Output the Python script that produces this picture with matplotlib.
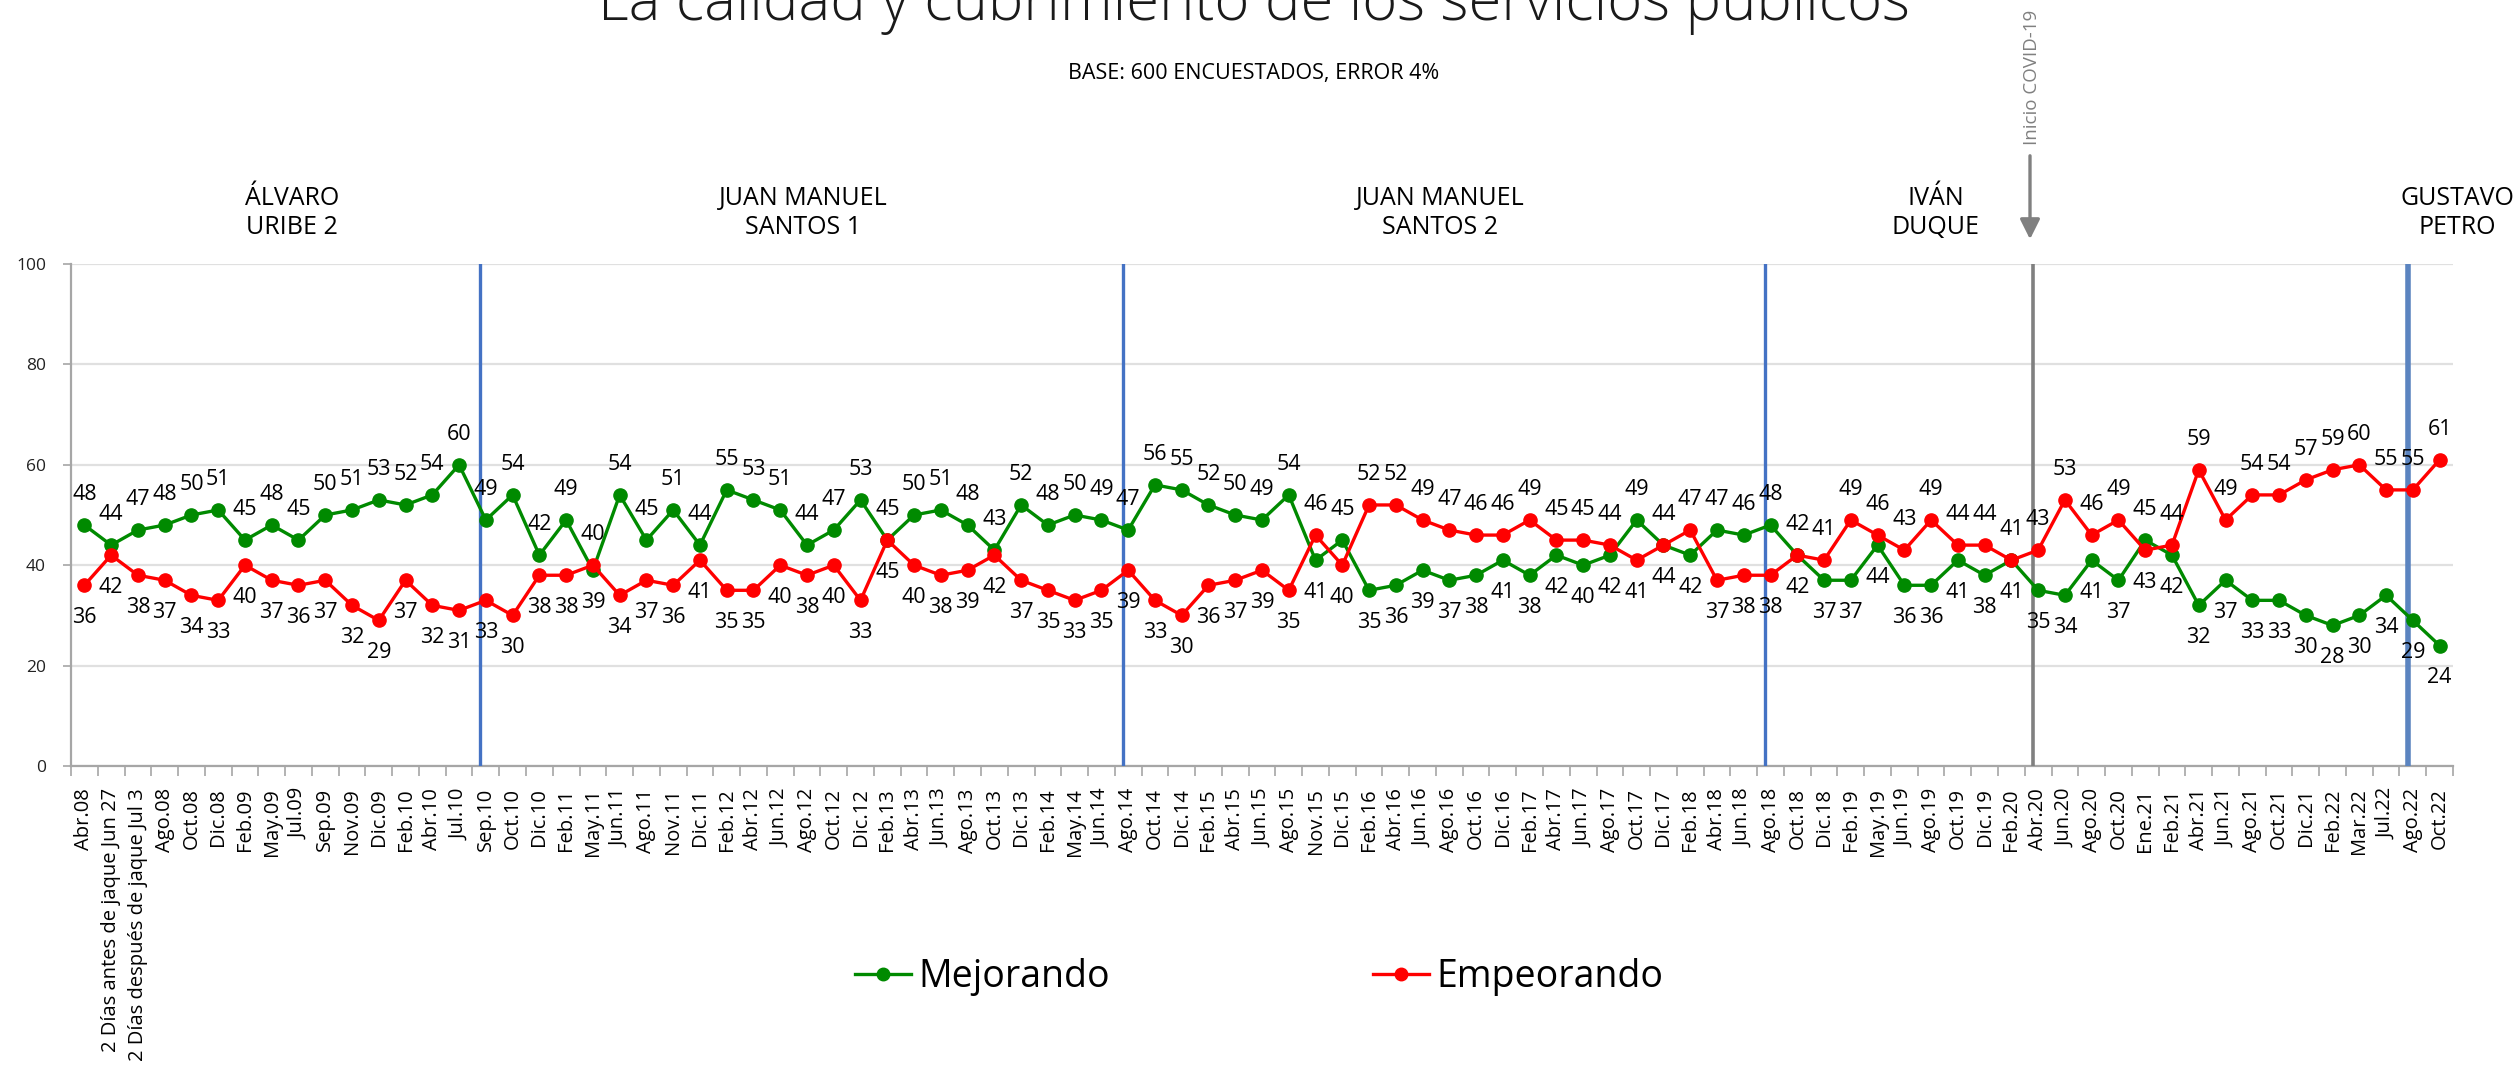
import matplotlib
matplotlib.use("Agg")
import matplotlib.pyplot as plt
from matplotlib.lines import Line2D

plt.rcParams['font.family'] = ['Open Sans', 'DejaVu Sans']

fechas = ["Abr.08", "2 Días antes de jaque Jun 27", "2 Días después de jaque Jul 3",
          "Ago.08", "Oct.08", "Dic.08", "Feb.09", "May.09", "Jul.09", "Sep.09", "Nov.09",
          "Dic.09", "Feb.10", "Abr.10", "Jul.10", "Sep.10", "Oct.10", "Dic.10", "Feb.11",
          "May.11", "Jun.11", "Ago.11", "Nov.11", "Dic.11", "Feb.12", "Abr.12", "Jun.12",
          "Ago.12", "Oct.12", "Dic.12", "Feb.13", "Abr.13", "Jun.13", "Ago.13", "Oct.13",
          "Dic.13", "Feb.14", "May.14", "Jun.14", "Ago.14", "Oct.14", "Dic.14", "Feb.15",
          "Abr.15", "Jun.15", "Ago.15", "Nov.15", "Dic.15", "Feb.16", "Abr.16", "Jun.16",
          "Ago.16", "Oct.16", "Dic.16", "Feb.17", "Abr.17", "Jun.17", "Ago.17", "Oct.17",
          "Dic.17", "Feb.18", "Abr.18", "Jun.18", "Ago.18", "Oct.18", "Dic.18", "Feb.19",
          "May.19", "Jun.19", "Ago.19", "Oct.19", "Dic.19", "Feb.20", "Abr.20", "Jun.20",
          "Ago.20", "Oct.20", "Ene.21", "Feb.21", "Abr.21", "Jun.21", "Ago.21", "Oct.21",
          "Dic.21", "Feb.22", "Mar.22", "Jul.22", "Ago.22", "Oct.22"]

mejorando = [48, 44, 47, 48, 50, 51, 45, 48, 45, 50, 51, 53, 52, 54, 60,
             49, 54, 42, 49, 39, 54, 45, 51, 44, 55, 53, 51, 44, 47, 53,
             45, 50, 51, 48, 43, 52, 48, 50, 49, 47, 56, 55, 52, 50, 49,
             54, 41, 45, 35, 36, 39, 37, 38, 41, 38, 42, 40, 42, 49, 44,
             42, 47, 46, 48, 42, 37, 37, 44, 36, 36, 41, 38, 41, 35, 34,
             41, 37, 45, 42, 32, 37, 33, 33, 30, 28, 30, 34, 29, 24]

empeorando = [36, 42, 38, 37, 34, 33, 40, 37, 36, 37, 32, 29, 37, 32, 31,
              33, 30, 38, 38, 40, 34, 37, 36, 41, 35, 35, 40, 38, 40, 33,
              45, 40, 38, 39, 42, 37, 35, 33, 35, 39, 33, 30, 36, 37, 39,
              35, 46, 40, 52, 52, 49, 47, 46, 46, 49, 45, 45, 44, 41, 44,
              47, 37, 38, 38, 42, 41, 49, 46, 43, 49, 44, 44, 41, 43, 53,
              46, 49, 43, 44, 59, 49, 54, 54, 57, 59, 60, 55, 55, 61]

inicio_gobierno = ["Sep.10", "Ago.14", "Ago.18"]
inicio_petro = "Ago.22"
inicio_covid = "Abr.20"

presidentes = ["ÁLVARO\nURIBE 2", "JUAN MANUEL\nSANTOS 1", "JUAN MANUEL\nSANTOS 2",
               "IVÁN\nDUQUE", "GUSTAVO\nPETRO"]

VERDE = '#008A00'
ROJO = '#FF0000'

fig = plt.figure(figsize=(25.17, 10.69), dpi=100)
ax = fig.add_axes([71 / 2517, 1 - 766 / 1069, (2453 - 71) / 2517, (766 - 264) / 1069])

x = list(range(len(fechas)))
ax.plot(x, mejorando, color=VERDE, lw=2.4, marker='o', ms=9.5, zorder=4)
ax.plot(x, empeorando, color=ROJO, lw=2.4, marker='o', ms=9.5, zorder=4)

for i in x:
    g, r = mejorando[i], empeorando[i]
    arriba = g >= r
    ax.annotate(str(g), (i, g), xytext=(0, 22 if arriba else -23), textcoords='offset points',
                ha='center', va='center', fontsize=15.5, color='black', zorder=5)
    ax.annotate(str(r), (i, r), xytext=(0, -23 if arriba else 22), textcoords='offset points',
                ha='center', va='center', fontsize=15.5, color='black', zorder=5)

for f in inicio_gobierno:
    ax.axvline(fechas.index(f) - 0.2, color='#4472C4', lw=2.4, zorder=3)
ax.axvline(fechas.index(inicio_petro) - 0.2, color='#5B84C0', lw=4, zorder=3)
ax.axvline(fechas.index(inicio_covid) - 0.2, color='#808080', lw=2.6, zorder=3)

ax.set_xlim(-0.5, len(fechas) - 0.5)
ax.set_ylim(0, 100)
ax.set_yticks([0, 20, 40, 60, 80, 100])
ax.grid(axis='y', color='#E0E0E0', lw=1.6, zorder=0)
ax.set_axisbelow(True)

ax.set_xticks(x)
ax.set_xticklabels(fechas, rotation=90, fontsize=14.5, va='top', ha='center')
ax.set_xticks([i - 0.5 for i in range(len(fechas) + 1)], minor=True)
ax.tick_params(axis='x', which='major', length=0, pad=16)
ax.tick_params(axis='x', which='minor', length=7, color='#A6A6A6', width=1.2)
ax.tick_params(axis='y', length=6, color='#A6A6A6', width=1.2, labelsize=12.5,
               labelcolor='#222222', pad=12)

for s in ['top', 'right']:
    ax.spines[s].set_visible(False)
for s in ['left', 'bottom']:
    ax.spines[s].set_color('#A6A6A6')
    ax.spines[s].set_linewidth(1.6)

# textos de la parte superior
fig.text(1254 / 2517, 1 - 20 / 1069, "La calidad y cubrimiento de los servicios públicos",
         ha='center', va='baseline', fontsize=43, fontweight='light', color='#1a1a1a')
fig.text(1254 / 2517, 1 - 74 / 1069, "BASE: 600 ENCUESTADOS, ERROR 4%",
         ha='center', va='center', fontsize=15.5, color='black')

pos_x = [292, 803, 1440, 1936, 2457]
for nombre, px in zip(presidentes, pos_x):
    fig.text(px / 2517, 1 - 213 / 1069, nombre, ha='center', va='center',
             fontsize=18, linespacing=1.2, color='black')

fig.text(2032 / 2517, 1 - 77 / 1069, "Inicio COVID-19", rotation=90, ha='center',
         va='center', fontsize=13.5, color='#808080')
fig.add_artist(matplotlib.patches.FancyArrowPatch(
    (2030 / 2517, 1 - 153 / 1069), (2030 / 2517, 1 - 242 / 1069),
    transform=fig.transFigure, arrowstyle='-|>', mutation_scale=30,
    color='#808080', lw=2.4))

handles = [Line2D([], [], color=VERDE, lw=2.4, marker='o', ms=9),
           Line2D([], [], color=ROJO, lw=2.4, marker='o', ms=9)]
fig.legend(handles, ["Mejorando", "Empeorando"], loc='center',
           bbox_to_anchor=(1259 / 2517, 1 - 977 / 1069), ncol=2, frameon=False,
           fontsize=27, handlelength=1.5, handletextpad=0.2, columnspacing=7.0)

fig.savefig("out.png", dpi=100)
